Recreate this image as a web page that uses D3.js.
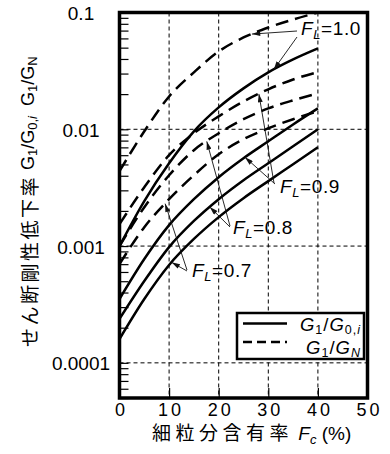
<!DOCTYPE html>
<html><head><meta charset="utf-8">
<script src="https://cdn.jsdelivr.net/npm/d3@7"></script>
<style>
html,body{margin:0;padding:0;background:#fff;}
svg{display:block;}
text{font-family:"Liberation Sans",Arial,sans-serif;fill:#000;}
.jp{font-family:"Noto Sans CJK JP",sans-serif;}
</style></head><body>
<svg id="chart" width="390" height="454"></svg>
<script>
// ---- data ----
const fc = [0, 5, 10, 15, 20, 25, 30, 35, 40];
const flLevels = ["1.0", "0.9", "0.8", "0.7"];
// G1/G0,i (solid)
const solidFL10 = [0.00100, 0.00243, 0.00512, 0.00961, 0.0154, 0.0224, 0.0307, 0.0396, 0.0492];
const solidFL09 = [0.000352, 0.000774, 0.00151, 0.00252, 0.00389, 0.00565, 0.00789, 0.0110, 0.0151];
const solidFL08 = [0.000238, 0.000502, 0.00098, 0.00164, 0.00252, 0.00366, 0.00512, 0.00716, 0.0100];
const solidFL07 = [0.000160, 0.000352, 0.000689, 0.00115, 0.00177, 0.00257, 0.00360, 0.00502, 0.00702];
// G1/GN (dashed)
const dashFL10 = [0.00438, 0.00961, 0.0191, 0.0307, 0.0464, 0.0611, 0.0744, 0.0871, 0.100];
const dashFL09 = [0.00154, 0.00319, 0.00600, 0.00925, 0.0129, 0.0173, 0.0220, 0.0267, 0.0309];
const dashFL08 = [0.00100, 0.00215, 0.00404, 0.00662, 0.00925, 0.0122, 0.0151, 0.0177, 0.0203];
const dashFL07 = [0.000702, 0.00145, 0.00252, 0.00404, 0.00611, 0.00822, 0.0102, 0.0122, 0.0143];
const xTicks = [0, 10, 20, 30, 40, 50];
const xGrid = [10, 20, 30, 40];
const yTicks = [0.0001, 0.001, 0.01, 0.1];
const yTickLabels = ["0.0001", "0.001", "0.01", "0.1"];
const yGrid = [0.0001, 0.001, 0.01];

// ---- scales ----
const svg = d3.select("#chart");
const x = d3.scaleLinear().domain([0, 50]).range([119.5, 367.5]);
const y = d3.scaleLog().domain([5e-5, 0.1]).range([398, 12.5]);
const X0 = x(0), X1 = x(50), Y0 = y(5e-5), Y1 = y(0.1);

const defs = svg.append("defs");
defs.append("clipPath").attr("id", "clip").append("rect")
  .attr("x", X0).attr("y", Y1).attr("width", X1 - X0).attr("height", Y0 - Y1);
defs.append("marker").attr("id", "ah").attr("viewBox", "0 0 10 6")
  .attr("refX", 10).attr("refY", 3).attr("markerWidth", 9).attr("markerHeight", 5)
  .attr("markerUnits", "userSpaceOnUse").attr("orient", "auto")
  .append("path").attr("d", "M0,0 L10,3 L0,6 Z").attr("fill", "#111");

// ---- grid ----
const grid = svg.append("g").attr("stroke", "#000").attr("stroke-width", 1).attr("stroke-dasharray", "4,3");
grid.selectAll(".gx").data(xGrid).join("line")
  .attr("x1", d => x(d)).attr("x2", d => x(d)).attr("y1", Y1).attr("y2", Y0);
grid.selectAll(".gy").data(yGrid).join("line")
  .attr("x1", X0).attr("x2", X1).attr("y1", d => y(d)).attr("y2", d => y(d));

// ---- y axis minor/major ticks (inside) ----
const yMinor = y.ticks().filter(v => v >= 5e-5 && v <= 0.1);
svg.append("g").attr("transform", `translate(${X0},0)`)
  .call(d3.axisRight(y).tickValues(yMinor).tickSize(9).tickFormat(""))
  .call(g => g.select(".domain").remove())
  .call(g => g.selectAll("line").attr("stroke", "#000").attr("stroke-width", 1.2));
// x ticks (inside, bottom)
svg.append("g").attr("transform", `translate(0,${Y0})`)
  .call(d3.axisTop(x).tickValues(xGrid).tickSize(10).tickFormat(""))
  .call(g => g.select(".domain").remove())
  .call(g => g.selectAll("line").attr("stroke", "#000").attr("stroke-width", 1.2));

// tick labels
svg.append("g").selectAll("text").data(yTicks).join("text")
  .attr("x", 81).attr("y", d => y(d) + 7.5).attr("text-anchor", "middle")
  .attr("font-size", 19).text((d, i) => yTickLabels[i]);
svg.append("g").selectAll("text").data(xTicks).join("text")
  .attr("x", d => x(d) + 2).attr("y", 415.5).attr("text-anchor", "middle")
  .attr("font-size", 18).attr("letter-spacing", 3).text(d => d);

// ---- curves ----
const line = d3.line().x(d => x(d[0])).y(d => y(d[1])).curve(d3.curveMonotoneX);
const solidSeries = [solidFL10, solidFL09, solidFL08, solidFL07];
const dashSeries = [dashFL10, dashFL09, dashFL08, dashFL07];
const curves = svg.append("g").attr("clip-path", "url(#clip)").attr("fill", "none").attr("stroke", "#000");
curves.selectAll(".s").data(solidSeries).join("path")
  .attr("d", s => line(fc.map((f, i) => [f, s[i]]))).attr("stroke-width", 2.5);
curves.selectAll(".d").data(dashSeries).join("path")
  .attr("d", s => line(fc.map((f, i) => [f, s[i]]))).attr("stroke-width", 2.5)
  .attr("stroke-dasharray", "13,7");

// ---- frame ----
svg.append("rect").attr("x", X0).attr("y", Y1).attr("width", X1 - X0).attr("height", Y0 - Y1)
  .attr("fill", "none").attr("stroke", "#000").attr("stroke-width", 3.5);

// ---- annotations ----
function valueAt(series, f) {
  const s = d3.scaleLinear().domain(fc).range(series.map(Math.log10));
  return Math.pow(10, s(f));
}
function flLabel(x0, y0, val) {
  const t = svg.append("text").attr("x", x0).attr("y", y0).attr("font-size", 19).attr("letter-spacing", 0.6);
  t.append("tspan").attr("font-style", "italic").text("F");
  t.append("tspan").attr("font-style", "italic").attr("font-size", 13).attr("dy", 4).text("L");
  t.append("tspan").attr("dy", -4).text("=" + val);
}
const notes = [
  { val: flLevels[0], lx: 301, ly: 35, arrows: [[297, 31, dashFL10, 26.7], [297, 37, solidFL10, 31.1]] },
  { val: flLevels[1], lx: 280, ly: 193, arrows: [[275, 184, solidFL09, 25.3], [274, 183, dashFL09, 28.1]] },
  { val: flLevels[2], lx: 233, ly: 234, arrows: [[230, 226, dashFL08, 17.6], [230, 227, solidFL08, 18.2]] },
  { val: flLevels[3], lx: 192, ly: 277, arrows: [[187, 271, solidFL07, 10.5], [187, 270, dashFL07, 9.2]] }
];
const ag = svg.append("g").attr("stroke", "#111").attr("stroke-width", 0.9);
notes.forEach(n => {
  n.arrows.forEach(a => {
    ag.append("line").attr("x1", a[0]).attr("y1", a[1])
      .attr("x2", x(a[3])).attr("y2", y(valueAt(a[2], a[3])))
      .attr("marker-end", "url(#ah)");
  });
  flLabel(n.lx, n.ly, n.val);
});

// ---- legend ----
const lg = svg.append("g");
lg.append("rect").attr("x", 237).attr("y", 313).attr("width", 127).attr("height", 46)
  .attr("fill", "#fff").attr("stroke", "#000").attr("stroke-width", 2.5);
lg.append("line").attr("x1", 243).attr("x2", 287).attr("y1", 323.5).attr("y2", 323.5)
  .attr("stroke", "#000").attr("stroke-width", 2.5);
lg.append("line").attr("x1", 243).attr("x2", 287).attr("y1", 342).attr("y2", 342)
  .attr("stroke", "#000").attr("stroke-width", 2.5).attr("stroke-dasharray", "9,5");
const l1 = lg.append("text").attr("x", 361).attr("y", 331).attr("text-anchor", "end").attr("font-size", 18.5).attr("letter-spacing", 1);
l1.append("tspan").attr("font-style", "italic").text("G");
l1.append("tspan").attr("font-size", 12.5).attr("dy", 3).text("1");
l1.append("tspan").attr("dy", -3).text("/");
l1.append("tspan").attr("font-style", "italic").text("G");
l1.append("tspan").attr("font-size", 12.5).attr("dy", 3).text("0,");
l1.append("tspan").attr("font-size", 12.5).attr("font-style", "italic").text("i");
const l2 = lg.append("text").attr("x", 361).attr("y", 353.5).attr("text-anchor", "end").attr("font-size", 18.5).attr("letter-spacing", 1);
l2.append("tspan").attr("font-style", "italic").text("G");
l2.append("tspan").attr("font-size", 12.5).attr("dy", 3).text("1");
l2.append("tspan").attr("dy", -3).text("/");
l2.append("tspan").attr("font-style", "italic").text("G");
l2.append("tspan").attr("font-size", 12.5).attr("font-style", "italic").attr("dy", 3).text("N");

// ---- axis titles ----
const xt = svg.append("text").attr("x", 152).attr("y", 440).attr("font-size", 19);
xt.append("tspan").attr("class", "jp").attr("letter-spacing", 4.5).text("細粒分含有率");
xt.append("tspan").text(" ");
xt.append("tspan").attr("font-style", "italic").text("F");
xt.append("tspan").attr("font-style", "italic").attr("font-size", 13).attr("dy", 4).text("c");
xt.append("tspan").attr("dy", -4).text(" (%)");

const yt = svg.append("text").attr("transform", "translate(28,347) rotate(-90)")
  .attr("dominant-baseline", "central").attr("font-size", 18);
yt.append("tspan").attr("class", "jp").attr("font-size", 19).attr("letter-spacing", 2.5).text("せん断剛性低下率");
yt.append("tspan").text(" G");
yt.append("tspan").attr("font-size", 13).attr("dy", 4).text("1");
yt.append("tspan").attr("dy", -4).text("/G");
yt.append("tspan").attr("font-size", 13).attr("dy", 4).text("0,");
yt.append("tspan").attr("font-size", 13).attr("font-style", "italic").text("i");
yt.append("tspan").attr("dy", -4).text("\u00a0\u00a0G");
yt.append("tspan").attr("font-size", 13).attr("dy", 4).text("1");
yt.append("tspan").attr("dy", -4).text("/G");
yt.append("tspan").attr("font-size", 13).attr("dy", 4).text("N");
</script>
</body></html>
